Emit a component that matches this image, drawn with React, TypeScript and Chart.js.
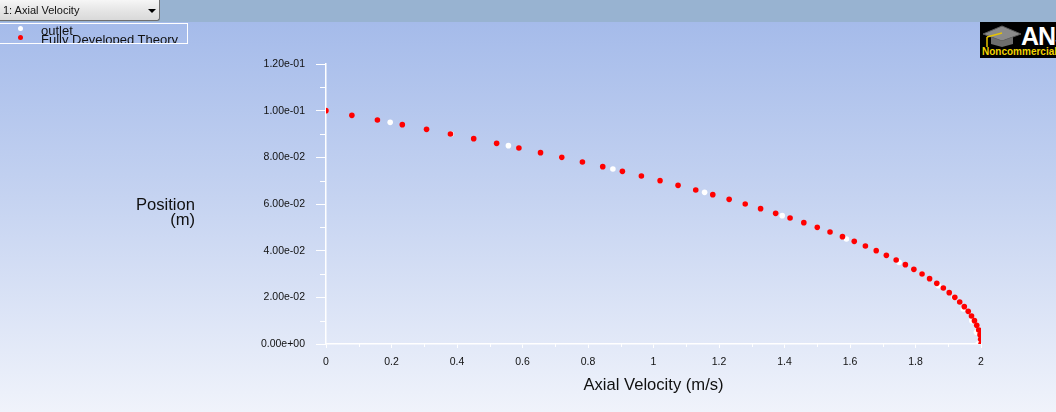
import React, { useEffect, useRef } from "react";
import { Chart, registerables } from "chart.js";

Chart.register(...registerables);

// Fully developed theory: position (m) and axial velocity (m/s)
const theoryPosition = [
  0.1, 0.098, 0.096, 0.094, 0.092, 0.09, 0.088, 0.086, 0.084, 0.082, 0.08,
  0.078, 0.076, 0.074, 0.072, 0.07, 0.068, 0.066, 0.064, 0.062, 0.06,
  0.058, 0.056, 0.054, 0.052, 0.05, 0.048, 0.046, 0.044, 0.042, 0.04,
  0.038, 0.036, 0.034, 0.032, 0.03, 0.028, 0.026, 0.024, 0.022, 0.02,
  0.018, 0.016, 0.014, 0.012, 0.01, 0.008, 0.006, 0.004, 0.002, 0.0,
];
const theoryVelocity = [
  0.0, 0.079, 0.157, 0.233, 0.307, 0.38, 0.451, 0.521, 0.589, 0.655, 0.72,
  0.783, 0.845, 0.905, 0.963, 1.02, 1.075, 1.129, 1.181, 1.231, 1.28,
  1.327, 1.373, 1.417, 1.459, 1.5, 1.539, 1.577, 1.613, 1.647, 1.68,
  1.711, 1.741, 1.769, 1.795, 1.82, 1.843, 1.865, 1.885, 1.903, 1.92,
  1.935, 1.949, 1.961, 1.971, 1.98, 1.987, 1.993, 1.997, 1.999, 2.0,
];

// outlet (simulation)
const outletPosition = [
  0.1, 0.095, 0.09, 0.085, 0.08, 0.075, 0.07, 0.065, 0.06, 0.055, 0.05,
  0.045, 0.04, 0.035, 0.03, 0.025, 0.02, 0.015, 0.01, 0.005, 0.0,
];
const outletVelocity = [
  0.0, 0.196, 0.382, 0.557, 0.72, 0.876, 1.02, 1.156, 1.28, 1.393, 1.5,
  1.589, 1.68, 1.75, 1.82, 1.87, 1.918, 1.946, 1.972, 1.986, 1.991,
];

const xTickLabels = ["0", "0.2", "0.4", "0.6", "0.8", "1", "1.2", "1.4", "1.6", "1.8", "2"];
const yTickLabels = ["0.00e+00", "2.00e-02", "4.00e-02", "6.00e-02", "8.00e-02", "1.00e-01", "1.20e-01"];

const FONT = "'Liberation Sans', Arial, sans-serif";

function fmtExp(v: number): string {
  if (Math.abs(v) < 1e-12) return "0.00e+00";
  const s = v.toExponential(2);
  const [m, e] = s.split("e");
  const sign = e[0] === "-" ? "-" : "+";
  const digits = e.replace(/[+-]/, "").padStart(2, "0");
  return `${m}e${sign}${digits}`;
}

const minorTicksPlugin = {
  id: "minorTicksAndTitles",
  afterDraw(chart: any) {
    const { ctx, scales, chartArea } = chart;
    const xs = scales.x;
    const ys = scales.y;
    ctx.save();
    ctx.strokeStyle = "#ffffff";
    ctx.lineWidth = 1;
    xs.ticks.forEach((t: any) => {
      const k = Math.round(t.value * 10);
      if (k % 2 !== 0) {
        const px = Math.round(xs.getPixelForValue(t.value)) + 0.5;
        ctx.beginPath();
        ctx.moveTo(px, chartArea.bottom);
        ctx.lineTo(px, chartArea.bottom + 3);
        ctx.stroke();
      }
    });
    ys.ticks.forEach((t: any) => {
      const k = Math.round(t.value * 100);
      if (k % 2 !== 0) {
        const py = Math.round(ys.getPixelForValue(t.value)) + 0.5;
        ctx.beginPath();
        ctx.moveTo(chartArea.left - 6, py);
        ctx.lineTo(chartArea.left, py);
        ctx.stroke();
      }
    });
    ctx.fillStyle = "#111111";
    ctx.font = `16.6px ${FONT}`;
    ctx.textBaseline = "alphabetic";
    ctx.textAlign = "right";
    ctx.fillText("Position", 195, 209.5);
    ctx.fillText("(m)", 195, 225);
    ctx.textAlign = "center";
    ctx.fillText("Axial Velocity (m/s)", (chartArea.left + chartArea.right) / 2, 390);
    ctx.restore();
  },
};

export default function App() {
  const canvasRef = useRef<HTMLCanvasElement | null>(null);

  useEffect(() => {
    document.body.style.margin = "0";
    const canvas = canvasRef.current;
    if (!canvas) return;
    const chart = new Chart(canvas, {
      type: "scatter",
      data: {
        datasets: [
          {
            label: "outlet",
            data: outletVelocity.map((v, i) => ({ x: v, y: outletPosition[i] })),
            backgroundColor: "#ffffff",
            borderWidth: 0,
            pointRadius: 2.8,
            order: 2,
          },
          {
            label: "Fully Developed Theory",
            data: theoryVelocity.map((v, i) => ({ x: v, y: theoryPosition[i] })),
            backgroundColor: "#ff0000",
            borderWidth: 0,
            pointRadius: 2.8,
            order: 1,
          },
        ],
      },
      options: {
        animation: false,
        responsive: false,
        events: [],
        layout: { padding: { left: 0, right: 75, top: 64, bottom: 0 } },
        plugins: {
          legend: { display: false },
          tooltip: { enabled: false },
          title: { display: false },
        },
        scales: {
          x: {
            type: "linear",
            min: 0,
            max: 2,
            afterFit(scale: any) {
              scale.height = 68;
            },
            ticks: {
              stepSize: 0.1,
              autoSkip: false,
              maxRotation: 0,
              color: "#111111",
              padding: 8,
              font: { family: FONT, size: 10.5 },
              callback(value: any) {
                const k = Math.round(Number(value) * 10);
                if (k % 2 !== 0) return "";
                return xTickLabels[k / 2] ?? "";
              },
            },
            grid: {
              drawOnChartArea: false,
              drawTicks: true,
              tickLength: 4,
              tickColor: (c: any) => {
                const k = Math.round(Number(c.tick?.value ?? 0) * 10);
                return k % 2 === 0 ? "#ffffff" : "rgba(0,0,0,0)";
              },
              color: "rgba(0,0,0,0)",
            },
            border: { display: true, color: "#ffffff", width: 1.5 },
          },
          y: {
            type: "linear",
            min: 0,
            max: 0.12,
            afterFit(scale: any) {
              scale.width = 326;
            },
            ticks: {
              stepSize: 0.01,
              autoSkip: false,
              color: "#111111",
              padding: 11,
              font: { family: FONT, size: 10.5 },
              callback(value: any) {
                const k = Math.round(Number(value) * 100);
                if (k % 2 !== 0) return "";
                return yTickLabels[k / 2] ?? fmtExp(Number(value));
              },
            },
            grid: {
              drawOnChartArea: false,
              drawTicks: true,
              tickLength: 10,
              tickColor: (c: any) => {
                const k = Math.round(Number(c.tick?.value ?? 0) * 100);
                return k % 2 === 0 ? "#ffffff" : "rgba(0,0,0,0)";
              },
              color: "rgba(0,0,0,0)",
            },
            border: { display: true, color: "#ffffff", width: 1.5 },
          },
        },
      },
      plugins: [minorTicksPlugin],
    });
    return () => chart.destroy();
  }, []);

  return (
    <div
      style={{
        position: "relative",
        width: 1056,
        height: 412,
        overflow: "hidden",
        background: "#98b3d1",
        fontFamily: FONT,
      }}
    >
      <div
        style={{
          position: "absolute",
          left: 0,
          top: 22,
          width: 1056,
          height: 390,
          background: "linear-gradient(to bottom, #a5bbea 0%, #c5d3f1 45%, #f0f3fb 100%)",
        }}
      />
      <canvas
        ref={canvasRef}
        width={1056}
        height={412}
        style={{ position: "absolute", left: 0, top: 0, width: 1056, height: 412 }}
      />
      {/* dropdown */}
      <div
        style={{
          position: "absolute",
          left: 0,
          top: 0,
          width: 159,
          height: 20,
          border: "1px solid #6f6f6f",
          borderLeft: "none",
          borderTop: "none",
          borderRadius: "0 0 3px 0",
          background: "linear-gradient(to bottom, #f6f6f6 0%, #e6e6e6 50%, #d9d9d9 100%)",
          boxSizing: "content-box",
          fontSize: 11,
          color: "#111",
          lineHeight: "19px",
        }}
      >
        <span style={{ position: "absolute", left: 3, top: 1 }}>1: Axial Velocity</span>
        <span
          style={{
            position: "absolute",
            left: 148,
            top: 9,
            width: 0,
            height: 0,
            borderLeft: "4px solid transparent",
            borderRight: "4px solid transparent",
            borderTop: "4px solid #000",
          }}
        />
      </div>
      {/* legend */}
      <div
        style={{
          position: "absolute",
          left: 0,
          top: 23,
          width: 187,
          height: 19,
          border: "1px solid #ffffff",
          borderLeft: "none",
          overflow: "hidden",
          fontSize: 13,
          color: "#111",
        }}
      >
        <span
          style={{
            position: "absolute",
            left: 18,
            top: 2,
            width: 5,
            height: 5,
            borderRadius: "50%",
            background: "#ffffff",
          }}
        />
        <span
          style={{
            position: "absolute",
            left: 18,
            top: 11,
            width: 5,
            height: 5,
            borderRadius: "50%",
            background: "#ff0000",
          }}
        />
        <span style={{ position: "absolute", left: 41, top: 0, lineHeight: "13px", whiteSpace: "nowrap" }}>
          outlet
        </span>
        <span style={{ position: "absolute", left: 41, top: 9, lineHeight: "13px", whiteSpace: "nowrap" }}>
          Fully Developed Theory
        </span>
      </div>
      {/* logo */}
      <div
        style={{
          position: "absolute",
          left: 980,
          top: 22,
          width: 80,
          height: 36,
          background: "#000",
          overflow: "hidden",
        }}
      >
        <svg width={44} height={26} style={{ position: "absolute", left: 1, top: 1 }}>
          <polygon points="2,11 21,3 40,11 21,18" fill="#8a8a8a" stroke="#5a5a5a" strokeWidth={1} />
          <polygon points="10,14 10,21 21,24 32,21 32,14 21,18" fill="#6d6d6d" />
          <line x1="21" y1="10" x2="6" y2="14" stroke="#e8c400" strokeWidth={1.5} />
          <line x1="6" y1="14" x2="6" y2="24" stroke="#e8c400" strokeWidth={1.5} />
        </svg>
        <span
          style={{
            position: "absolute",
            left: 41,
            top: 1,
            color: "#fff",
            fontWeight: "bold",
            fontSize: 25,
            lineHeight: "26px",
            letterSpacing: -1,
            fontFamily: "'Liberation Sans', Arial, sans-serif",
          }}
        >
          ANSYS
        </span>
        <span
          style={{
            position: "absolute",
            left: 2,
            top: 24,
            color: "#f2d400",
            fontWeight: "bold",
            fontSize: 10,
            lineHeight: "11px",
            whiteSpace: "nowrap",
          }}
        >
          Noncommercial use only
        </span>
      </div>
    </div>
  );
}
